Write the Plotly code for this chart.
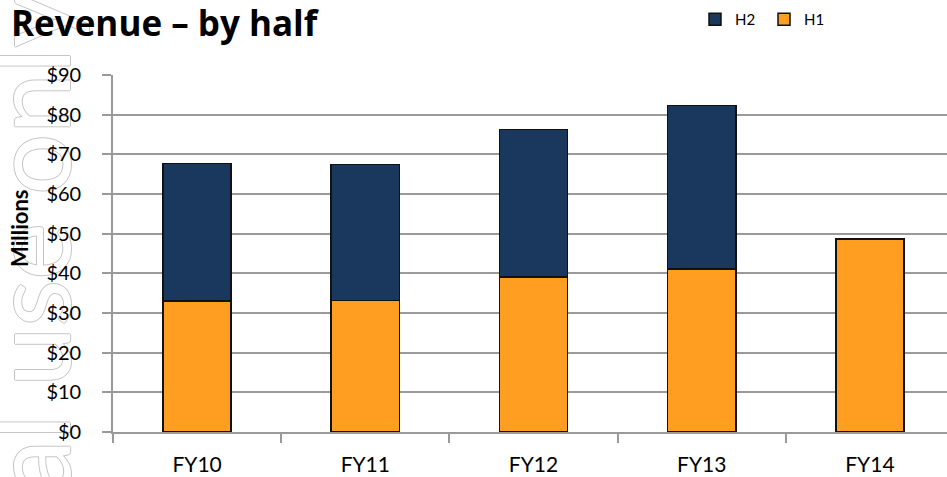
import plotly.graph_objects as go

categories = ["FY10", "FY11", "FY12", "FY13", "FY14"]
h1_values = [33.0, 33.1, 39.1, 41.1, 48.7]
h2_values = [34.7, 34.4, 37.2, 41.2, 0.0]
y_tick_vals = [0, 10, 20, 30, 40, 50, 60, 70, 80, 90]
y_tick_text = ["$0", "$10", "$20", "$30", "$40", "$50", "$60", "$70", "$80", "$90"]

W, H = 947, 477
L, R, T, B = 113, 0, 75, 45
pw, ph = W - L - R, H - T - B

FONT = "Lato"
GRID = "#9a9a9a"

fig = go.Figure()
fig.add_trace(go.Bar(name="H1", x=categories, y=h1_values,
                     marker=dict(color="#FF9E20", line=dict(color="#111111", width=1.5)),
                     width=0.405))
fig.add_trace(go.Bar(name="H2", x=categories, y=h2_values,
                     marker=dict(color="#1A375D", line=dict(color="#111111", width=1.5)),
                     width=0.405))


def px_x(p):
    return (p - L) / pw


def px_y(p):
    return (H - B - p) / ph


# watermark drawn beneath the chart
wm_cx, wm_cy = 27, 385
fig.add_shape(type="rect", xref="paper", yref="paper",
              x0=px_x(wm_cx - 50), x1=px_x(wm_cx + 50),
              y0=px_y(wm_cy + 420), y1=px_y(wm_cy - 420),
              line=dict(width=0), fillcolor="rgba(0,0,0,0)", layer="below",
              label=dict(text="Internal use only", textangle=-90,
                         textposition="middle center",
                         font=dict(family=FONT, size=108, color="white",
                                   shadow="1px 0 0 #c4c4c4, -1px 0 0 #c4c4c4, 0 1px 0 #c4c4c4, 0 -1px 0 #c4c4c4")))

fig.add_annotation(text="<b>Millions</b>", xref="paper", yref="paper",
                   x=px_x(19), y=px_y(229), textangle=-90, showarrow=False,
                   font=dict(family=FONT, size=22, color="black"),
                   xanchor="center", yanchor="middle")

fig.update_layout(
    width=W, height=H,
    margin=dict(l=L, r=R, t=T, b=B, pad=0),
    barmode="stack",
    paper_bgcolor="white", plot_bgcolor="white",
    font=dict(family=FONT, color="black"),
    title=dict(text="<b>Revenue – by half</b>", x=11 / W, xanchor="left",
               y=1 - 24 / H, yanchor="middle",
               font=dict(family="Open Sans", size=35, color="black")),
    legend=dict(orientation="h", traceorder="reversed", x=px_x(695), y=px_y(3),
                xanchor="left", yanchor="top", font=dict(family=FONT, size=15, color="black"),
                bgcolor="rgba(0,0,0,0)", itemwidth=30, entrywidth=24),
    xaxis=dict(type="category", range=[-0.5, 4.5 - 7 / 168.2], showgrid=False,
               showline=True, linecolor=GRID, linewidth=1.6,
               ticks="outside", tickson="boundaries", ticklen=9, tickcolor=GRID, tickwidth=1.6,
               tickfont=dict(family=FONT, size=21, color="black"), ticklabelstandoff=13),
    yaxis=dict(range=[0, 90], tickvals=y_tick_vals, ticktext=y_tick_text,
               showgrid=True, gridcolor=GRID, gridwidth=1.6,
               showline=True, linecolor=GRID, linewidth=1.6,
               ticks="outside", ticklen=9, tickcolor=GRID, tickwidth=1.6,
               tickfont=dict(family=FONT, size=20, color="black"), ticklabelstandoff=17,
               zeroline=False),
    showlegend=True,
)

fig.write_html("out.html")
